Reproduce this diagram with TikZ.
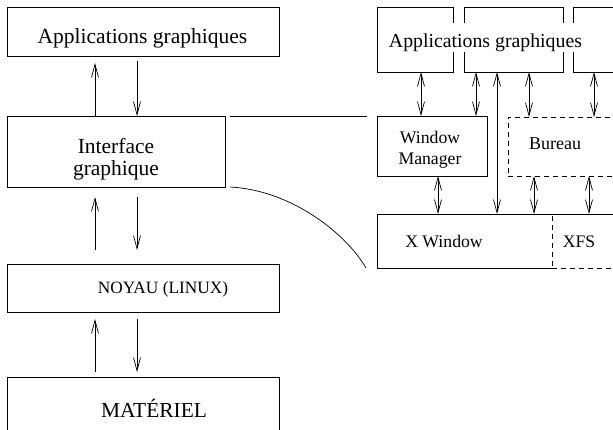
\documentclass[tikz,border=0pt]{standalone}
\usepackage{fontspec}
\setmainfont{Liberation Serif}
\usetikzlibrary{arrows.meta}
\newcommand{\fsz}[1]{\fontsize{#1}{#1}\selectfont}
\begin{document}
\begin{tikzpicture}[x=1pt,y=-1pt,
  box/.style={draw,line width=0.8pt,inner sep=0pt,outer sep=0pt,anchor=north west},
  dbox/.style={box,dashed,dash pattern=on 5pt off 4pt},
  txt/.style={inner sep=0pt,anchor=base,align=center},
  arr/.style={line width=0.7pt,-{Straight Barb[length=13pt,width=7pt]}},
  darr/.style={line width=0.7pt,{Straight Barb[length=13pt,width=7pt]}-{Straight Barb[length=13pt,width=7pt]}},
  link/.style={line width=0.7pt}]
\useasboundingbox (0,0) rectangle (613,429);
\clip (0,0) rectangle (613,429);
% left column
\node[box,minimum width=272pt,minimum height=49pt] (apps) at (7,7) {};
\node[box,minimum width=218pt,minimum height=71pt] (inter) at (7,116) {};
\node[box,minimum width=272pt,minimum height=48pt] (noyau) at (7,264) {};
\node[box,minimum width=272pt,minimum height=70pt] (mat) at (7,377) {};
\node[txt,font=\fsz{21.5}] (tapps) at (142.5,43) {Applications graphiques};
\node[txt,font=\fsz{21.5}] (tinter1) at (116,153) {Interface};
\node[txt,font=\fsz{21.5}] (tinter2) at (116,175) {graphique};
\node[txt,font=\fsz{17.3}] (tnoyau) at (163,293) {NOYAU (LINUX)};
\node[txt,font=\fsz{21.4}] (tmat) at (154,417) {MATÉRIEL};
% left arrows
\draw[arr] (95,0 |- inter.north) -- (95,63);
\draw[arr] (137,61) -- (137,0 |- inter.north);
\draw[arr] (95,250) -- (95,197);
\draw[arr] (137,197) -- (137,250);
\draw[arr] (95,372) -- (95,319);
\draw[arr] (137,319) -- (137,372);
% right column
\node[box,minimum width=76pt,minimum height=65pt] (app1) at (377,7) {};
\node[box,minimum width=99pt,minimum height=65pt] (app2) at (464,7) {};
\node[box,minimum width=60pt,minimum height=65pt] (app3) at (573,7) {};
\node[txt,font=\fsz{19.8},fill=white,text height=24pt,text depth=5pt] (tapp) at (485.5,47) {Applications graphiques};
\node[box,minimum width=110pt,minimum height=60pt] (wm) at (377,116) {};
\node[dbox,minimum width=125pt,minimum height=59pt] (bureau) at (508,117) {};
\node[box,draw=none,minimum width=175pt,minimum height=54pt] (xwin) at (377,214) {};
\node[dbox,minimum width=80pt,minimum height=54pt] (xfs) at (552,214) {};
\draw[line width=0.8pt] (xwin.south east) -- (xwin.south west) -- (xwin.north west) -- (xfs.north east);
\node[txt,font=\fsz{17.7}] (twm1) at (430,143) {Window};
\node[txt,font=\fsz{17.7}] (twm2) at (430,164) {Manager};
\node[txt,font=\fsz{18}] (tbur) at (555,149) {Bureau};
\node[txt,font=\fsz{17.7}] (txw) at (444,247) {X Window};
\node[txt,font=\fsz{17.6}] (txfs) at (579,247) {XFS};
% right arrows
\draw[darr] (421,0 |- app1.south) -- (421,0 |- wm.north);
\draw[darr] (476,0 |- app2.south) -- (476,0 |- wm.north);
\draw[darr] (497,0 |- app2.south) -- (497,0 |- xwin.north);
\draw[darr] (529,0 |- app2.south) -- (529,0 |- bureau.north);
\draw[darr] (594,0 |- app3.south) -- (594,0 |- bureau.north);
\draw[darr] (438,0 |- wm.south) -- (438,0 |- xwin.north);
\draw[darr] (534,0 |- bureau.south) -- (534,0 |- xwin.north);
\draw[darr] (589,0 |- bureau.south) -- (589,0 |- xfs.north);
% zoom links
\coordinate (la) at ([xshift=5pt]inter.north east);
\coordinate (lb) at ([xshift=-10pt]wm.north west);
\coordinate (ca) at ([xshift=5pt]inter.south east);
\coordinate (cb) at ([xshift=-11pt]xwin.south west);
\draw[link] (la) -- (lb);
\draw[link] (ca) .. controls (290,190) and (345,232) .. (cb);
\end{tikzpicture}
\end{document}
